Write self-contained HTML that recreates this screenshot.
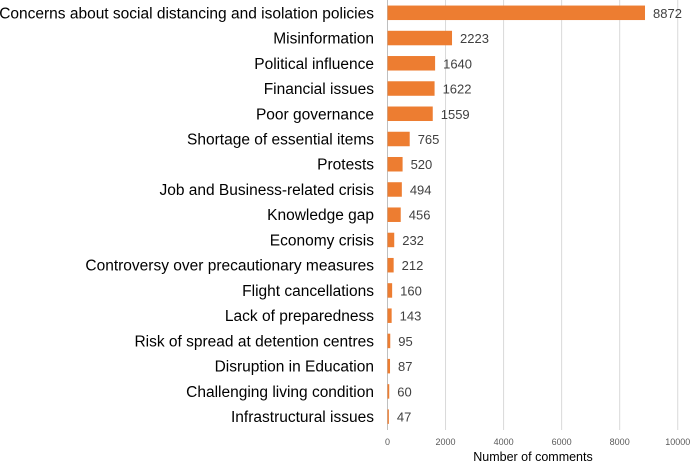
<!DOCTYPE html>
<html><head><meta charset="utf-8"><style>
html,body{margin:0;padding:0;background:#fff;}
svg{display:block;font-family:"Liberation Sans",Arial,sans-serif;}
</style></head><body>
<svg id="chart" width="690" height="463"></svg>
<script>
const categories=["Concerns about social distancing and isolation policies","Misinformation","Political influence","Financial issues","Poor governance","Shortage of essential items","Protests","Job and Business-related crisis","Knowledge gap","Economy crisis","Controversy over precautionary measures","Flight cancellations","Lack of preparedness","Risk of spread at detention centres","Disruption in Education","Challenging living condition","Infrastructural issues"];
const values=[8872,2223,1640,1622,1559,765,520,494,456,232,212,160,143,95,87,60,47];
const ticks=[0,2000,4000,6000,8000,10000];
const NS="http://www.w3.org/2000/svg";
const svg=document.getElementById('chart');
const x0=387.5,pxPer=0.029025,top0=12.8,step=25.24,bh=14.5,gridBottom=430;
const xs=v=>x0+v*pxPer, yc=i=>top0+i*step;
function mk(t,a,txt){const e=document.createElementNS(NS,t);for(const k in a)e.setAttribute(k,a[k]);if(txt!==undefined)e.textContent=txt;svg.appendChild(e);return e;}
ticks.forEach(t=>{
 const g=mk('line',{x1:xs(t),x2:xs(t),y1:0,y2:gridBottom,stroke:t===0?'#bfbfbf':'#d9d9d9','stroke-width':1});
 
 
 const l=mk('text',{x:xs(t),y:445,'font-size':9,fill:'#595959','text-anchor':'middle'},t);
 
 
});
categories.forEach((c,i)=>{
 const b=mk('rect',{x:x0,y:yc(i)-bh/2,width:values[i]*pxPer,height:bh,fill:'#ed7d31'});
 
 
 const l=mk('text',{x:374,y:yc(i)+5.5,'font-size':15.5,fill:'#000','text-anchor':'end'},c);
 
 
 const v=mk('text',{x:xs(values[i])+8,y:yc(i)+5,'font-size':13,fill:'#404040'},values[i]);
 
 
});
const t=mk('text',{x:533,y:461,'font-size':12.5,fill:'#000','text-anchor':'middle'},'Number of comments');


</script>
</body></html>
